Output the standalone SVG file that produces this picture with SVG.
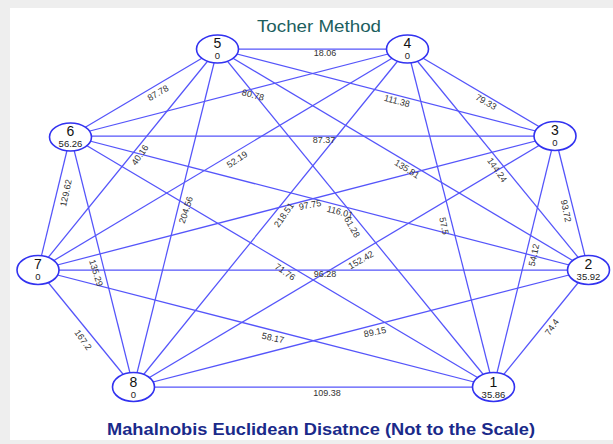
<svg xmlns="http://www.w3.org/2000/svg" width="613" height="444" viewBox="0 0 613 444">
<style>
.e{stroke:#5555fa;stroke-width:1.25;fill:none}
.n{fill:#fff;stroke:#3232f0;stroke-width:1.6}
.l{font-family:"Liberation Sans",Arial,sans-serif;font-size:9px;fill:#333;text-anchor:middle;dominant-baseline:central}
.k{font-family:"Liberation Sans",Arial,sans-serif;font-size:14px;fill:#111;text-anchor:middle}
.v{font-family:"Liberation Sans",Arial,sans-serif;font-size:9.5px;fill:#222;text-anchor:middle}
</style>
<rect x="0" y="0" width="613" height="444" fill="#eeeeee"/>
<rect x="10" y="8" width="603" height="432" fill="#ffffff"/>
<text x="319" y="32" font-family="Liberation Sans,Arial,sans-serif" font-size="16.5" fill="#1b5e5e" text-anchor="middle" textLength="124" lengthAdjust="spacingAndGlyphs">Tocher Method</text>
<g id="connectors">
<line class="e" x1="217.5" y1="49" x2="407.5" y2="49"/>
<line class="e" x1="217.5" y1="49" x2="555" y2="136"/>
<line class="e" x1="217.5" y1="49" x2="588.5" y2="270"/>
<line class="e" x1="217.5" y1="49" x2="493.5" y2="387"/>
<line class="e" x1="217.5" y1="49" x2="133.5" y2="387"/>
<line class="e" x1="217.5" y1="49" x2="38" y2="270"/>
<line class="e" x1="217.5" y1="49" x2="70.5" y2="136"/>
<line class="e" x1="407.5" y1="49" x2="555" y2="136"/>
<line class="e" x1="407.5" y1="49" x2="588.5" y2="270"/>
<line class="e" x1="407.5" y1="49" x2="493.5" y2="387"/>
<line class="e" x1="407.5" y1="49" x2="133.5" y2="387"/>
<line class="e" x1="407.5" y1="49" x2="38" y2="270"/>
<line class="e" x1="407.5" y1="49" x2="70.5" y2="136"/>
<line class="e" x1="555" y1="136" x2="588.5" y2="270"/>
<line class="e" x1="555" y1="136" x2="493.5" y2="387"/>
<line class="e" x1="555" y1="136" x2="133.5" y2="387"/>
<line class="e" x1="555" y1="136" x2="38" y2="270"/>
<line class="e" x1="555" y1="136" x2="70.5" y2="136"/>
<line class="e" x1="588.5" y1="270" x2="493.5" y2="387"/>
<line class="e" x1="588.5" y1="270" x2="133.5" y2="387"/>
<line class="e" x1="588.5" y1="270" x2="38" y2="270"/>
<line class="e" x1="588.5" y1="270" x2="70.5" y2="136"/>
<line class="e" x1="493.5" y1="387" x2="133.5" y2="387"/>
<line class="e" x1="493.5" y1="387" x2="38" y2="270"/>
<line class="e" x1="493.5" y1="387" x2="70.5" y2="136"/>
<line class="e" x1="133.5" y1="387" x2="38" y2="270"/>
<line class="e" x1="133.5" y1="387" x2="70.5" y2="136"/>
<line class="e" x1="38" y1="270" x2="70.5" y2="136"/>
<text class="l" x="325" y="52.5">18.06</text>
<text class="l" x="397" y="101" transform="rotate(15 397 101)">111.38</text>
<text class="l" x="158" y="93" transform="rotate(-30 158 93)">87.78</text>
<text class="l" x="253" y="95" transform="rotate(15 253 95)">80.78</text>
<text class="l" x="486" y="102" transform="rotate(30 486 102)">79.33</text>
<text class="l" x="324" y="139.5">87.37</text>
<text class="l" x="140" y="155" transform="rotate(-55 140 155)">40.16</text>
<text class="l" x="237" y="159.5" transform="rotate(-33 237 159.5)">52.19</text>
<text class="l" x="407" y="169" transform="rotate(32 407 169)">135.81</text>
<text class="l" x="497" y="170" transform="rotate(55 497 170)">144.24</text>
<text class="l" x="566" y="211" transform="rotate(78 566 211)">93.72</text>
<text class="l" x="66" y="193" transform="rotate(-78 66 193)">129.62</text>
<text class="l" x="186" y="210" transform="rotate(-72 186 210)">204.56</text>
<text class="l" x="284" y="215" transform="rotate(-55 284 215)">218.51</text>
<text class="l" x="310" y="205" transform="rotate(-10 310 205)">97.75</text>
<text class="l" x="340" y="212" transform="rotate(15 340 212)">116.01</text>
<text class="l" x="352" y="227" transform="rotate(60 352 227)">61.28</text>
<text class="l" x="444" y="226" transform="rotate(78 444 226)">57.5</text>
<text class="l" x="534" y="255" transform="rotate(-78 534 255)">54.12</text>
<text class="l" x="96" y="273" transform="rotate(72 96 273)">135.29</text>
<text class="l" x="285" y="272" transform="rotate(35 285 272)">71.76</text>
<text class="l" x="325" y="274">96.28</text>
<text class="l" x="361" y="260" transform="rotate(-30 361 260)">152.42</text>
<text class="l" x="83" y="340" transform="rotate(55 83 340)">167.2</text>
<text class="l" x="552" y="327" transform="rotate(-55 552 327)">74.4</text>
<text class="l" x="273" y="338" transform="rotate(12 273 338)">58.17</text>
<text class="l" x="375" y="332" transform="rotate(-12 375 332)">89.15</text>
<text class="l" x="327" y="392.5">109.38</text>
</g>
<g id="node-5"><ellipse class="n" cx="217.5" cy="49" rx="21" ry="14"/><text class="k" x="217.5" y="48">5</text><text class="v" x="217.5" y="59">0</text></g>
<g id="node-4"><ellipse class="n" cx="407.5" cy="49" rx="21" ry="14"/><text class="k" x="407.5" y="48">4</text><text class="v" x="407.5" y="59">0</text></g>
<g id="node-3"><ellipse class="n" cx="555" cy="136" rx="21" ry="14.5"/><text class="k" x="555" y="135">3</text><text class="v" x="555" y="146">0</text></g>
<g id="node-2"><ellipse class="n" cx="588.5" cy="270" rx="21" ry="14.5"/><text class="k" x="588.5" y="269">2</text><text class="v" x="588.5" y="280">35.92</text></g>
<g id="node-1"><ellipse class="n" cx="493.5" cy="387" rx="21" ry="14.5"/><text class="k" x="493.5" y="386.5">1</text><text class="v" x="493.5" y="397.5">35.86</text></g>
<g id="node-8"><ellipse class="n" cx="133.5" cy="387" rx="21" ry="14.5"/><text class="k" x="133.5" y="386.5">8</text><text class="v" x="133.5" y="397.5">0</text></g>
<g id="node-7"><ellipse class="n" cx="38" cy="270" rx="21" ry="14.5"/><text class="k" x="38" y="269">7</text><text class="v" x="38" y="280">0</text></g>
<g id="node-6"><ellipse class="n" cx="70.5" cy="137" rx="21" ry="14"/><text class="k" x="70.5" y="136">6</text><text class="v" x="70.5" y="147">56.26</text></g>
<text x="321" y="435" font-family="Liberation Sans,Arial,sans-serif" font-size="16.5" font-weight="bold" fill="#1a2a8a" text-anchor="middle" textLength="428" lengthAdjust="spacingAndGlyphs">Mahalnobis Euclidean Disatnce (Not to the Scale)</text>
</svg>
